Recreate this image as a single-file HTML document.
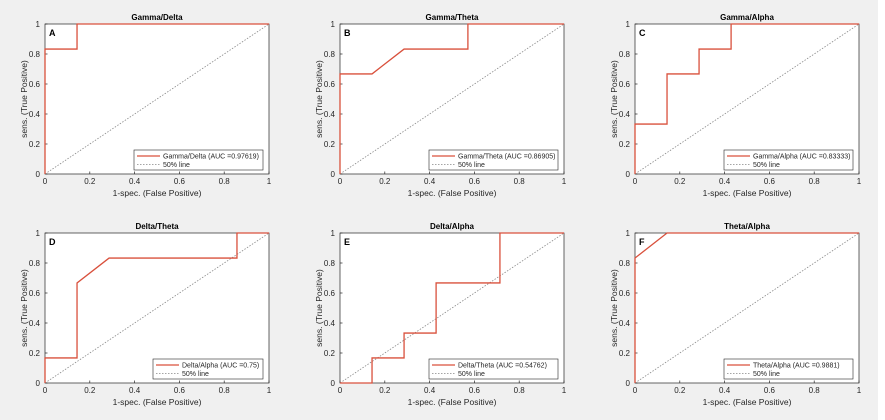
<!DOCTYPE html>
<html><head><meta charset="utf-8"><style>
html,body{margin:0;padding:0;background:#f0f0f0;}
svg{display:block;font-family:"Liberation Sans",Arial,sans-serif;}
</style></head><body>
<svg id="fig" width="885" height="420" viewBox="0 0 885 420" xmlns="http://www.w3.org/2000/svg">
<rect x="0" y="0" width="885" height="420" fill="#f0f0f0"/>
<rect x="878" y="0" width="7" height="420" fill="#ffffff"/>
</svg>
<script>
const titles = ["Gamma/Delta","Gamma/Theta","Gamma/Alpha","Delta/Theta","Delta/Alpha","Theta/Alpha"];
const letters = ["A","B","C","D","E","F"];
const legendLabels = ["Gamma/Delta (AUC =0.97619)","Gamma/Theta (AUC =0.86905)","Gamma/Alpha (AUC =0.83333)","Delta/Alpha (AUC =0.75)","Delta/Theta (AUC =0.54762)","Theta/Alpha (AUC =0.9881)"];
const fprA=[0,0,0.143,0.143,1], tprA=[0,0.833,0.833,1,1];
const fprB=[0,0,0.143,0.286,0.571,0.571,1], tprB=[0,0.667,0.667,0.833,0.833,1,1];
const fprC=[0,0,0.143,0.143,0.286,0.286,0.429,0.429,1], tprC=[0,0.333,0.333,0.667,0.667,0.833,0.833,1,1];
const fprD=[0,0,0.143,0.143,0.286,0.857,0.857,1], tprD=[0,0.167,0.167,0.667,0.833,0.833,1,1];
const fprE=[0,0.143,0.143,0.286,0.286,0.429,0.429,0.714,0.714,1], tprE=[0,0,0.167,0.167,0.333,0.333,0.667,0.667,1,1];
const fprF=[0,0,0.143,1], tprF=[0,0.833,1,1];
const xTicks=[0,0.2,0.4,0.6,0.8,1];
const yTicks=[0,0.2,0.4,0.6,0.8,1];
const fprs=[fprA,fprB,fprC,fprD,fprE,fprF];
const tprs=[tprA,tprB,tprC,tprD,tprE,tprF];

const NS="http://www.w3.org/2000/svg";
const svg=document.getElementById('fig');
function mk(tag,attrs,parent,text){const e=document.createElementNS(NS,tag);for(const k in attrs)e.setAttribute(k,attrs[k]);if(text!==undefined)e.textContent=text;(parent||svg).appendChild(e);return e;}
const colX=[45,340,635], rowY=[24,233], W=224, H=150;
for(let i=0;i<6;i++){
  const x0=colX[i%3], y0=rowY[Math.floor(i/3)];
  const sx=v=>x0+v*W, sy=v=>y0+H-v*H;
  const g=mk('g',{});
  
  
  mk('rect',{x:x0,y:y0,width:W,height:H,fill:'#fff',stroke:'#262626','stroke-width':0.7},g);
  xTicks.forEach(t=>{mk('line',{x1:sx(t),x2:sx(t),y1:y0+H,y2:y0+H-2.5,stroke:'#262626','stroke-width':0.7},g);
    const tl=mk('text',{x:sx(t),y:y0+H+10,'font-size':8,'text-anchor':'middle',fill:'#262626'},g,String(t));
    });
  yTicks.forEach(t=>{mk('line',{x1:x0,x2:x0+2.5,y1:sy(t),y2:sy(t),stroke:'#262626','stroke-width':0.7},g);
    const tl=mk('text',{x:x0-5,y:sy(t)+3,'font-size':8,'text-anchor':'end',fill:'#262626'},g,String(t));
    });
  const tt=mk('text',{x:x0+W/2,y:y0-4,'font-size':8,'font-weight':'bold','text-anchor':'middle',fill:'#000'},g,titles[i]);
  
  const xl=mk('text',{x:x0+W/2,y:y0+H+22,'font-size':8.5,'text-anchor':'middle',fill:'#262626'},g,'1-spec. (False Positive)');
  
  const yl=mk('text',{x:0,y:0,'font-size':8.5,'text-anchor':'middle',fill:'#262626',transform:`translate(${x0-18},${y0+H/2}) rotate(-90)`},g,'sens. (True Positive)');
  
  const dl=mk('line',{x1:sx(0),y1:sy(0),x2:sx(1),y2:sy(1),stroke:'#888','stroke-width':0.8,'stroke-dasharray':'1.5,1.5'},g);
  
  const pts=fprs[i].map((f,j)=>sx(f)+','+sy(tprs[i][j])).join(' ');
  const pl=mk('polyline',{points:pts,fill:'none',stroke:'#d9503c','stroke-width':1.3},g);
  
  const lt=mk('text',{x:x0+4,y:y0+12,'font-size':9,'font-weight':'bold',fill:'#000'},g,letters[i]);
  
  const lw = i===3?110:129;
  const lx=x0+W-6-lw, ly=y0+H-24;
  const lg=mk('g',{},g);
  
  mk('rect',{x:lx,y:ly,width:lw,height:20,fill:'#fff',stroke:'#262626','stroke-width':0.6},lg);
  mk('line',{x1:lx+3,x2:lx+26,y1:ly+6,y2:ly+6,stroke:'#d9503c','stroke-width':1.2},lg);
  mk('line',{x1:lx+3,x2:lx+26,y1:ly+14.5,y2:ly+14.5,stroke:'#888','stroke-width':0.8,'stroke-dasharray':'1.5,1.5'},lg);
  const le1=mk('text',{x:lx+29,y:ly+8.5,'font-size':7,fill:'#262626'},lg,legendLabels[i]);
  
  const le2=mk('text',{x:lx+29,y:ly+17,'font-size':7,fill:'#262626'},lg,'50% line');
  
}
</script>
</body></html>
